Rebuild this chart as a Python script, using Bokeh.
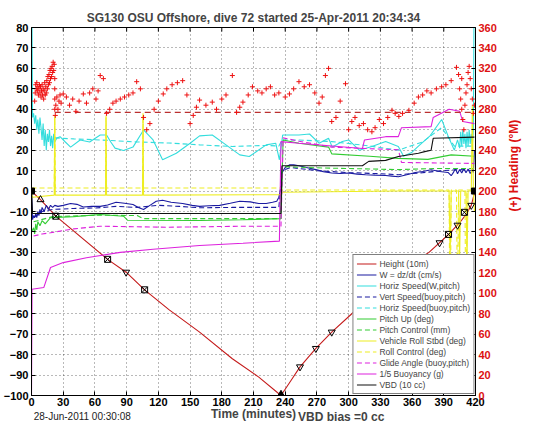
import math
from bokeh.plotting import figure
from bokeh.models import Range1d, LinearAxis, FixedTicker
from bokeh.embed import file_html
from bokeh.resources import INLINE

FONT = "Liberation Sans"

title_text = "SG130 OSU Offshore, dive 72 started 25-Apr-2011 20:34:34"
x_label = "Time (minutes)"
right_label = "(+) Heading (°M)"
date_text = "28-Jun-2011 00:30:08"
bias_text = "VBD bias =0 cc"
date_pos = 48     # time position (minutes) under which the date is centred
bias_pos = 293    # time position (minutes) under which the bias note is centred
x_ticks = list(range(0, 421, 30))
y_ticks = list(range(-100, 81, 10))
heading_ticks = list(range(0, 361, 20))

# (time min, value)
height_pts = [(0, 0), (8.5, -4.2), (23, -12.3), (72, -33.4), (89.5, -39.7), (107, -48.3), (130, -58),
              (159, -69), (190, -82), (215, -91), (236, -100), (245, -93), (254, -86), (269, -77),
              (284, -69), (303, -60), (330, -47), (355, -37), (376, -30), (395, -21), (405, -15.5),
              (411, -11.5), (416, -7), (419, -1)]
w_pts = [(0, 0), (1, -14), (2, -12), (3, -13), (4, -11), (5, -13), (6, -10), (7, -12), (8, -9), (9, -11),
         (10, -8), (12, -10), (14, -7), (16, -9), (18, -7), (20, -8), (22, -7), (25, -7.5), (30, -7),
         (37, -6.1), (43, -6.5), (49, -7.8), (57, -7.5), (65, -7.5), (72, -6.8), (80, -5.5), (88, -6),
         (96, -6.6), (101, -8), (106, -9), (112, -7), (118, -5), (124, -4.5), (132, -5.5), (143, -6.1),
         (152, -7), (159, -7.5), (168, -7.2), (178, -7), (188, -6), (197, -5), (207, -5.3), (215, -6.1),
         (222, -6.1), (228, -5.5), (232, -5), (234, -3), (236, 2), (237, 9), (240, 11.5), (244, 12.8),
         (248, 12.8), (253, 12.4), (260, 11.5), (269, 10.5), (276, 9.5), (284, 8.8), (292, 8.6),
         (300, 8.8), (308, 8.3), (316, 8), (325, 7.8), (335, 7.6), (341, 7.3), (347, 7), (355, 8),
         (363, 9.1), (370, 9.6), (378, 10.4), (386, 9.6), (394, 9.1), (397, 7.5), (399, 9), (401, 11),
         (403, 8.5), (405, 10.5), (407, 8.8), (409, 11), (411, 9), (413, 10.8), (415, 8.6), (417, 10.5),
         (418, 9), (419, 20)]
hspd_pts = [(0, 80), (0.5, 80), (1, 36), (2, 38), (3, 33), (4, 37), (5, 30), (6, 35), (7, 28), (8, 36),
            (9, 31), (10, 25), (11, 33), (12, 22), (13, 30), (14, 20), (15, 28), (16, 24), (17, 30),
            (18, 22), (19, 27), (20, 21), (21, 28), (22, 24), (24, 26), (27, 26.6), (32, 24), (37, 21.5),
            (46, 25), (55, 24), (65, 27.4), (71, 27.4), (75, 24), (79, 21), (87, 19.8), (96, 21.5),
            (106, 29.9), (115, 25), (124, 15.3), (137, 18.5), (150, 23.4), (159, 27), (171, 27.4),
            (184, 22.6), (197, 17.7), (206, 16.9), (222, 22.6), (231, 23.4), (234.5, 15.3), (237.6, 27.4),
            (253, 27.4), (263, 27.9), (272, 23.4), (281, 25.8), (284.5, 21.5), (294, 24.2), (300, 25),
            (310, 20), (322, 21.8), (335, 24.2), (347, 21.8), (352, 17), (360, 19), (366, 22), (377, 27),
            (388, 35), (394, 27), (400, 20), (403, 25), (405, 21), (406, 29), (407, 22), (408, 30),
            (409, 23), (410, 28), (411, 21), (412, 29), (413, 22), (414, 30), (415, 23), (416, 28),
            (417, 22), (418, 30), (418.5, 80), (419, 80)]
vspd_pts = [(2, -13), (10, -10), (20, -9), (40, -8.5), (60, -8.3), (80, -7.5), (100, -8), (120, -7),
            (140, -7.5), (160, -8.2), (190, -8), (220, -8), (234, -8), (237, 10), (245, 11.5), (270, 10),
            (300, 9), (330, 8.5), (347, 8), (370, 9), (390, 10), (405, 10.5), (419, 10)]
hspd_b_pts = [(22, 26), (40, 25.5), (65, 25), (100, 24), (130, 23.5), (159, 22.6), (190, 21.8),
              (222, 22.3), (234, 22), (237, 25), (253, 25), (284, 24.2), (316, 22.3), (347, 20),
              (370, 24), (388, 31), (400, 22), (419, 22)]
pitch_pts = [(0, -20), (2, -18), (3, -21), (4, -16), (5, -19), (6, -15), (8, -17), (10, -14.5), (13, -16),
             (18, -13), (40, -12.5), (65, -11.5), (87, -12.3), (91, -14.3), (159, -14.4), (200, -14),
             (236, -13.5), (238, 25), (253, 23.4), (281, 21.5), (284, 18.2), (320, 17), (347, 16),
             (375, 15.5), (397, 17.7), (419, 17)]
pitch_ctl_pts = [(2, -15), (20, -12.5), (65, -11.8), (100, -12), (106, -13.5), (236, -13.5), (237, 12),
                 (260, 11.5), (284, 11.2), (320, 10.8), (347, 10.5), (380, 11), (419, 11)]
roll_pts = [(0, -1), (1, -3), (21.5, -2), (22, 37), (22.5, -2), (70, -2), (70.5, 37), (71, -2), (105, -2),
            (105.5, 38), (106, -2), (236, -1.8), (237, -0.6), (347, 0), (395, 0), (396, -34), (397, 0),
            (404, 0), (405, -33), (406, 0), (411, 0), (412, -34), (413, 0), (416, 0), (417, 42), (418, 0),
            (419, -10)]
roll_ctl_pts = [(0, 1.5), (21.5, 1.5), (22, 36), (22.5, 1.5), (70, 1.5), (70.5, 36), (71, 1.5),
                (105, 1.5), (105.5, 37), (106, 1.5), (236, 1.5), (237, 0.5), (395, 0.5), (396, -80),
                (397, 0.5), (402, 0.5), (403, -60), (404, 0.5), (410, 0.5), (411, -80), (412, 0.5),
                (419, 0.5)]
glide_pts = [(2, -22), (10, -21), (18, -20.4), (40, -18.5), (65, -17.2), (128, -17.7), (200, -17.2),
             (236, -17.2), (238, 26), (253, 24.4), (284, 21.5), (316, 20.8), (347, 20.2), (350, 14),
             (419, 13.5)]
buoy_pts = [(0, -100), (0.5, -48), (11.6, -47.2), (18, -37.4), (30, -35), (52, -32.6), (84, -30),
            (115, -28.5), (159, -26.6), (200, -25.5), (234.5, -24.5), (236, 24.2), (253, 23.4),
            (313, 20.8), (315, 25), (335, 26.6), (347, 26.6), (350, 31), (378, 31.5), (380, 36),
            (395, 40), (405, 39), (408, 34), (419, 33)]
vbd_pts = [(0, 0), (1, -11), (236, -11), (237, 12.4), (313, 12.4), (319, 14.5), (335, 15), (347, 16.9),
           (366, 18.5), (372, 19.3), (378, 20), (380, 25.8), (419, 26.4)]

# heading (degrees), right axis
heading_pts = [(3, 288), (3.5, 296), (4, 304), (4.5, 300), (5, 306), (5.5, 298), (6, 302), (6.5, 294),
               (7, 300), (7.5, 304), (8, 296), (8.5, 302), (9, 292), (9.5, 298), (10, 304), (10.5, 294),
               (11, 300), (11.5, 290), (12, 298), (12.5, 306), (13, 294), (13.5, 302), (14, 296),
               (14.5, 308), (15, 300), (15.5, 312), (16, 304), (16.5, 314), (17, 306), (17.5, 318),
               (18, 310), (18.5, 320), (19, 312), (19.5, 322), (20, 316), (20.5, 326), (21, 318),
               (21.5, 324), (22, 310), (22, 300), (22, 290), (22, 280), (22.5, 274), (23, 284), (24, 292),
               (25, 280), (26, 288), (27, 294), (28, 286), (30, 295), (33, 292), (36, 284), (39, 290),
               (42, 278), (45, 288), (49, 295), (52, 286), (55, 296), (58, 300), (61, 290), (63, 298),
               (65, 313), (68, 310), (71, 276), (74, 280), (77, 286), (80, 288), (84, 290), (88, 292),
               (92, 294), (96, 296), (99.5, 307), (103, 300), (106, 272), (109, 260), (112, 266), (116, 280),
               (120, 288), (124.6, 295), (128, 300), (133, 304), (138, 306), (143, 308), (147, 294),
               (150, 266), (153, 274), (156, 282), (159, 289), (165, 284), (171, 287), (175, 280),
               (180, 290), (184, 294), (190, 313), (194, 277), (197, 282), (200, 287), (205, 294),
               (209, 302), (214, 298), (218, 296), (222, 300), (226, 302), (230, 294), (234, 296),
               (240, 292), (244, 295), (248, 300), (253, 307), (258, 302), (263, 304), (268, 296),
               (272, 286), (275, 292), (278, 313), (281, 320), (284, 268), (288, 272), (292, 288),
               (297, 305), (300, 260), (303, 268), (306, 272), (310, 264), (314, 266), (318, 260),
               (322, 258), (325, 262), (329, 270), (333, 266), (337, 272), (341, 279), (344, 276),
               (347.5, 273), (351, 276), (357, 279), (362, 286), (366, 292), (370, 294), (374, 298),
               (378, 296), (383, 300), (388, 302), (392, 304), (397, 308), (402, 321), (404, 314),
               (405, 300), (406, 290), (407, 280), (407, 310), (408, 270), (409, 260), (410, 284),
               (411, 296), (412, 304), (413, 316), (414, 322), (415, 310), (416, 300), (417, 290),
               (418, 276), (419, 284)]
heading_target = 277
heading_target_span = (22, 419)

tri_up_pts = [(8.5, -4.2)]
square_x_pts = [(23, -12.3), (72, -33.4), (107, -48.3), (394.5, -21.2), (409.5, -10.4)]
tri_down_pts = [(89.5, -39.7), (254, -86), (269, -77), (284, -69), (386, -25.3), (403, -16.7), (416, -7)]
filled_sq_pts = [(0, 0), (419, 0)]
filled_tri_pts = [(236, -100)]


def xs(pts):
    return [a for a, _ in pts]


def ys(pts):
    return [b for _, b in pts]


p = figure(width=530, height=426, x_range=Range1d(0, 420), y_range=Range1d(-100, 80),
           output_backend="svg", toolbar_location=None, title=title_text,
           min_border_left=31, min_border_right=53, min_border_top=27, min_border_bottom=29)
p.extra_y_ranges = {"heading": Range1d(0, 360)}
p.background_fill_color = "white"
p.border_fill_color = "white"
p.outline_line_color = "black"
p.outline_line_width = 1

p.title.text_font = FONT
p.title.text_font_size = "12px"
p.title.text_font_style = "bold"
p.title.align = "center"
p.title.standoff = 5
p.title.offset = 0

# axes styling
for ax in [p.xaxis[0], p.yaxis[0]]:
    ax.major_label_text_font = FONT
    ax.major_label_text_font_size = "11px"
    ax.major_label_text_font_style = "bold"
    ax.major_label_text_color = "black"
    ax.major_tick_in = 4
    ax.major_tick_out = 0
    ax.minor_tick_in = 0
    ax.minor_tick_out = 0
    ax.axis_line_color = "black"
    ax.major_label_standoff = 2
p.yaxis[0].major_label_standoff = 3
p.xaxis[0].ticker = FixedTicker(ticks=x_ticks)
p.yaxis[0].ticker = FixedTicker(ticks=y_ticks)
p.xaxis[0].axis_label = x_label
p.xaxis[0].axis_label_text_font = FONT
p.xaxis[0].axis_label_text_font_size = "12px"
p.xaxis[0].axis_label_text_font_style = "bold"
p.xaxis[0].axis_label_standoff = -2

p.xgrid.ticker = FixedTicker(ticks=x_ticks)
p.ygrid.ticker = FixedTicker(ticks=y_ticks)
for g in [p.xgrid[0], p.ygrid[0]]:
    g.grid_line_color = "black"
    g.grid_line_alpha = 0.55
    g.grid_line_dash = "1 3"
    g.grid_line_width = 1

# footer texts: two tickless axes below whose single labels sit on one row
date_axis = LinearAxis(ticker=FixedTicker(ticks=[date_pos]), major_label_overrides={date_pos: date_text},
                       major_label_text_font=FONT, major_label_text_font_size="10px",
                       major_label_text_color="#222222", major_label_standoff=-13,
                       major_tick_line_color=None, minor_tick_line_color=None, axis_line_color=None,
                       major_tick_in=0, major_tick_out=0, minor_tick_in=0, minor_tick_out=0)
bias_axis = LinearAxis(ticker=FixedTicker(ticks=[bias_pos]), major_label_overrides={bias_pos: bias_text},
                       major_label_text_font=FONT, major_label_text_font_size="12px",
                       major_label_text_font_style="bold", major_label_standoff=-15,
                       major_tick_line_color=None, minor_tick_line_color=None, axis_line_color=None,
                       major_tick_in=0, major_tick_out=0, minor_tick_in=0, minor_tick_out=0)
p.add_layout(date_axis, "below")
p.add_layout(bias_axis, "below")

red = "#dd1111"
right_axis = LinearAxis(y_range_name="heading", ticker=FixedTicker(ticks=heading_ticks),
                        axis_label=right_label, major_label_text_font=FONT,
                        major_label_text_font_size="11px", major_label_text_font_style="bold",
                        major_label_text_color=red, axis_label_text_color=red,
                        axis_label_text_font=FONT, axis_label_text_font_size="12px",
                        axis_label_text_font_style="bold", major_tick_in=4, major_tick_out=0,
                        minor_tick_in=0, minor_tick_out=0, major_label_standoff=3,
                        axis_label_standoff=14, axis_line_color="black",
                        axis_label_orientation=math.pi / 2)
p.add_layout(right_axis, "right")

# inward tick marks along the top edge of the box
p.segment(x0=x_ticks, y0=[80] * len(x_ticks), x1=x_ticks, y1=[78] * len(x_ticks),
          line_color="black", line_width=1)

lw = 1.1
series = [
    (height_pts, "#c41a1a", "solid", "Height (10m)"),
    (w_pts, "#1a1aa0", "solid", "W = dz/dt (cm/s)"),
    (hspd_pts, "#33dddd", "solid", "Horiz Speed(W,pitch)"),
    (vspd_pts, "#1a1aa0", "5 3", "Vert Speed(buoy,pitch)"),
    (hspd_b_pts, "#33dddd", "5 3", "Horiz Speed(buoy,pitch)"),
    (pitch_pts, "#33cc33", "solid", "Pitch Up (deg)"),
    (pitch_ctl_pts, "#33cc33", "5 3", "Pitch Control (mm)"),
    (roll_pts, "#eeee22", "solid", "Vehicle Roll Stbd (deg)"),
    (roll_ctl_pts, "#eeee22", "5 3", "Roll Control (deg)"),
    (glide_pts, "#dd22dd", "5 3", "Glide Angle (buoy,pitch)"),
    (buoy_pts, "#dd22dd", "solid", "1/5 Buoyancy (g)"),
    (vbd_pts, "#111111", "solid", "VBD (10 cc)"),
]
for pts, col, dash, lab in series:
    p.line(xs(pts), ys(pts), line_color=col, line_width=lw, line_dash=dash, legend_label=lab)

p.line(list(heading_target_span), [heading_target, heading_target], y_range_name="heading",
       line_color="#bb3030", line_width=1.3, line_dash="6 4")
p.scatter(xs(heading_pts), ys(heading_pts), y_range_name="heading", marker="cross", size=5,
          line_color="#ee1111", line_width=1)

p.scatter(xs(tri_up_pts), ys(tri_up_pts), marker="triangle", size=7, fill_color=None, line_color="black")
p.scatter(xs(square_x_pts), ys(square_x_pts), marker="square_x", size=6, fill_color=None, line_color="black")
p.scatter(xs(tri_down_pts), ys(tri_down_pts), marker="inverted_triangle", size=7, fill_color=None,
          line_color="black")
p.scatter(xs(filled_sq_pts), ys(filled_sq_pts), marker="square", size=6, fill_color="black",
          line_color="black")
p.scatter(xs(filled_tri_pts), ys(filled_tri_pts), marker="triangle", size=9, fill_color="black",
          line_color="black")

lg = p.legend[0]
lg.location = "bottom_right"
lg.margin = 1
lg.padding = 3
lg.spacing = 0
lg.glyph_width = 20
lg.glyph_height = 11
lg.label_height = 11
lg.label_standoff = 3
lg.label_text_font = FONT
lg.label_text_font_size = "8.5px"
lg.border_line_color = "black"
lg.border_line_width = 1
lg.background_fill_alpha = 1

open("out.html", "w").write(file_html(p, INLINE))
